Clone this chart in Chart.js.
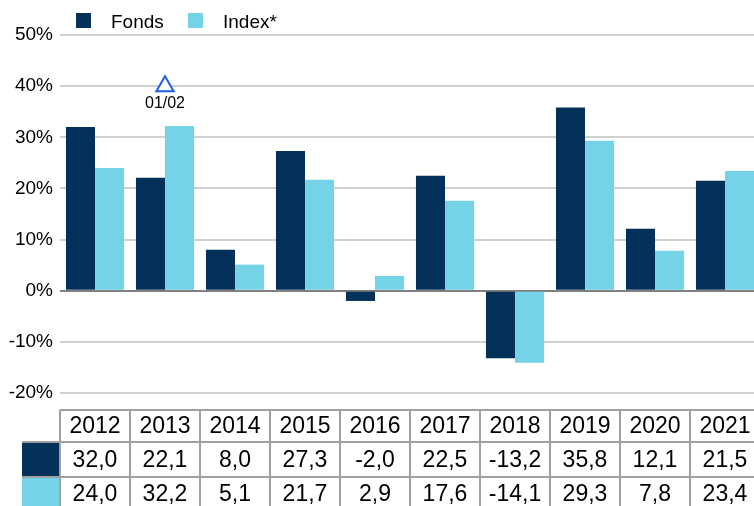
<!DOCTYPE html>
<html>
<head>
<meta charset="utf-8">
<script src="https://cdn.jsdelivr.net/npm/chart.js@4.4.1/dist/chart.umd.min.js"></script>
<style>
  html, body { margin: 0; padding: 0; background: #fff; overflow: hidden; }
  #wrap { width: 760px; height: 506px; }
</style>
</head>
<body>
<div id="wrap"><canvas id="chart" width="760" height="506"></canvas></div>
<script>
const years = ["2012", "2013", "2014", "2015", "2016", "2017", "2018", "2019", "2020", "2021"];
const fonds = [32.0, 22.1, 8.0, 27.3, -2.0, 22.5, -13.2, 35.8, 12.1, 21.5];
const index = [24.0, 32.2, 5.1, 21.7, 2.9, 17.6, -14.1, 29.3, 7.8, 23.4];
const markerValues = [null, 40, null, null, null, null, null, null, null, null];
const markerLabel = "01/02";

const FONDS_COLOR = "#04315a";
const INDEX_COLOR = "#74d3e6";
const FONT = "'Liberation Sans', Arial, sans-serif";

const fmt = (v) => v.toFixed(1).replace(".", ",");

// legend, marker label and the data table underneath
const extras = {
  id: "extras",
  afterDraw(chart) {
    const ctx = chart.ctx;
    const x = chart.scales.x;
    ctx.save();

    // legend
    ctx.font = "19px " + FONT;
    ctx.textBaseline = "alphabetic";
    ctx.textAlign = "left";
    ctx.fillStyle = FONDS_COLOR;
    ctx.fillRect(76, 13, 15, 15);
    ctx.fillStyle = INDEX_COLOR;
    ctx.fillRect(188, 13, 15, 15);
    ctx.fillStyle = "#000";
    ctx.fillText("Fonds", 111, 28);
    ctx.fillText("Index*", 223, 28);

    // marker label
    const meta = chart.getDatasetMeta(2);
    meta.data.forEach((pt, i) => {
      if (markerValues[i] == null) return;
      ctx.font = "16px " + FONT;
      ctx.textAlign = "center";
      ctx.fillStyle = "#000";
      ctx.fillText(markerLabel, pt.x, 108);
    });

    // table
    const colW = x.getPixelForValue(1) - x.getPixelForValue(0);
    const left = x.getPixelForValue(0) - colW / 2;
    const rows = [410, 442, 477, 512];
    ctx.fillStyle = FONDS_COLOR;
    ctx.fillRect(22, rows[1], left - 22, rows[2] - rows[1]);
    ctx.fillStyle = INDEX_COLOR;
    ctx.fillRect(22, rows[2], left - 22, rows[3] - rows[2]);

    ctx.strokeStyle = "#a0a0a0";
    ctx.lineWidth = 2;
    ctx.beginPath();
    rows.forEach((ry, r) => {
      const x0 = r === 0 ? left : 22;
      ctx.moveTo(x0, ry);
      ctx.lineTo(left + colW * years.length, ry);
    });
    for (let i = 0; i <= years.length; i++) {
      const cx = left + colW * i;
      ctx.moveTo(cx, rows[0]);
      ctx.lineTo(cx, rows[3]);
    }
    ctx.stroke();

    ctx.font = "23px " + FONT;
    ctx.textAlign = "center";
    ctx.fillStyle = "#000";
    years.forEach((y, i) => {
      const cx = x.getPixelForValue(i);
      ctx.fillText(y, cx, 433);
      ctx.fillText(fmt(fonds[i]), cx, 467);
      ctx.fillText(fmt(index[i]), cx, 501);
    });
    ctx.restore();
  }
};

new Chart(document.getElementById("chart"), {
  type: "bar",
  data: {
    labels: years,
    datasets: [
      { label: "Fonds", data: fonds, backgroundColor: FONDS_COLOR, categoryPercentage: 0.83, barPercentage: 1 },
      { label: "Index*", data: index, backgroundColor: INDEX_COLOR, categoryPercentage: 0.83, barPercentage: 1 },
      {
        type: "line",
        label: "marker",
        data: markerValues,
        showLine: false,
        pointStyle: "triangle",
        pointRadius: 10,
        pointBorderWidth: 2,
        pointBorderColor: "#1f5fe0",
        pointBackgroundColor: "#fff"
      }
    ]
  },
  options: {
    responsive: false,
    animation: false,
    layout: { autoPadding: false, padding: { top: 35, bottom: 113, left: 0, right: 0 } },
    plugins: { legend: { display: false }, tooltip: { enabled: false } },
    scales: {
      x: { display: false },
      y: {
        min: -20,
        max: 50,
        afterFit(scale) { scale.width = 60; },
        border: { display: false },
        grid: {
          drawTicks: false,
          lineWidth: 2,
          color: (c) => (c.tick && c.tick.value === 0 ? "#808080" : "#d0d0d0")
        },
        ticks: {
          stepSize: 10,
          padding: 7,
          color: "#000",
          font: { family: FONT, size: 19 },
          callback: (v) => v + "%"
        }
      }
    }
  },
  plugins: [extras]
});
</script>
</body>
</html>
